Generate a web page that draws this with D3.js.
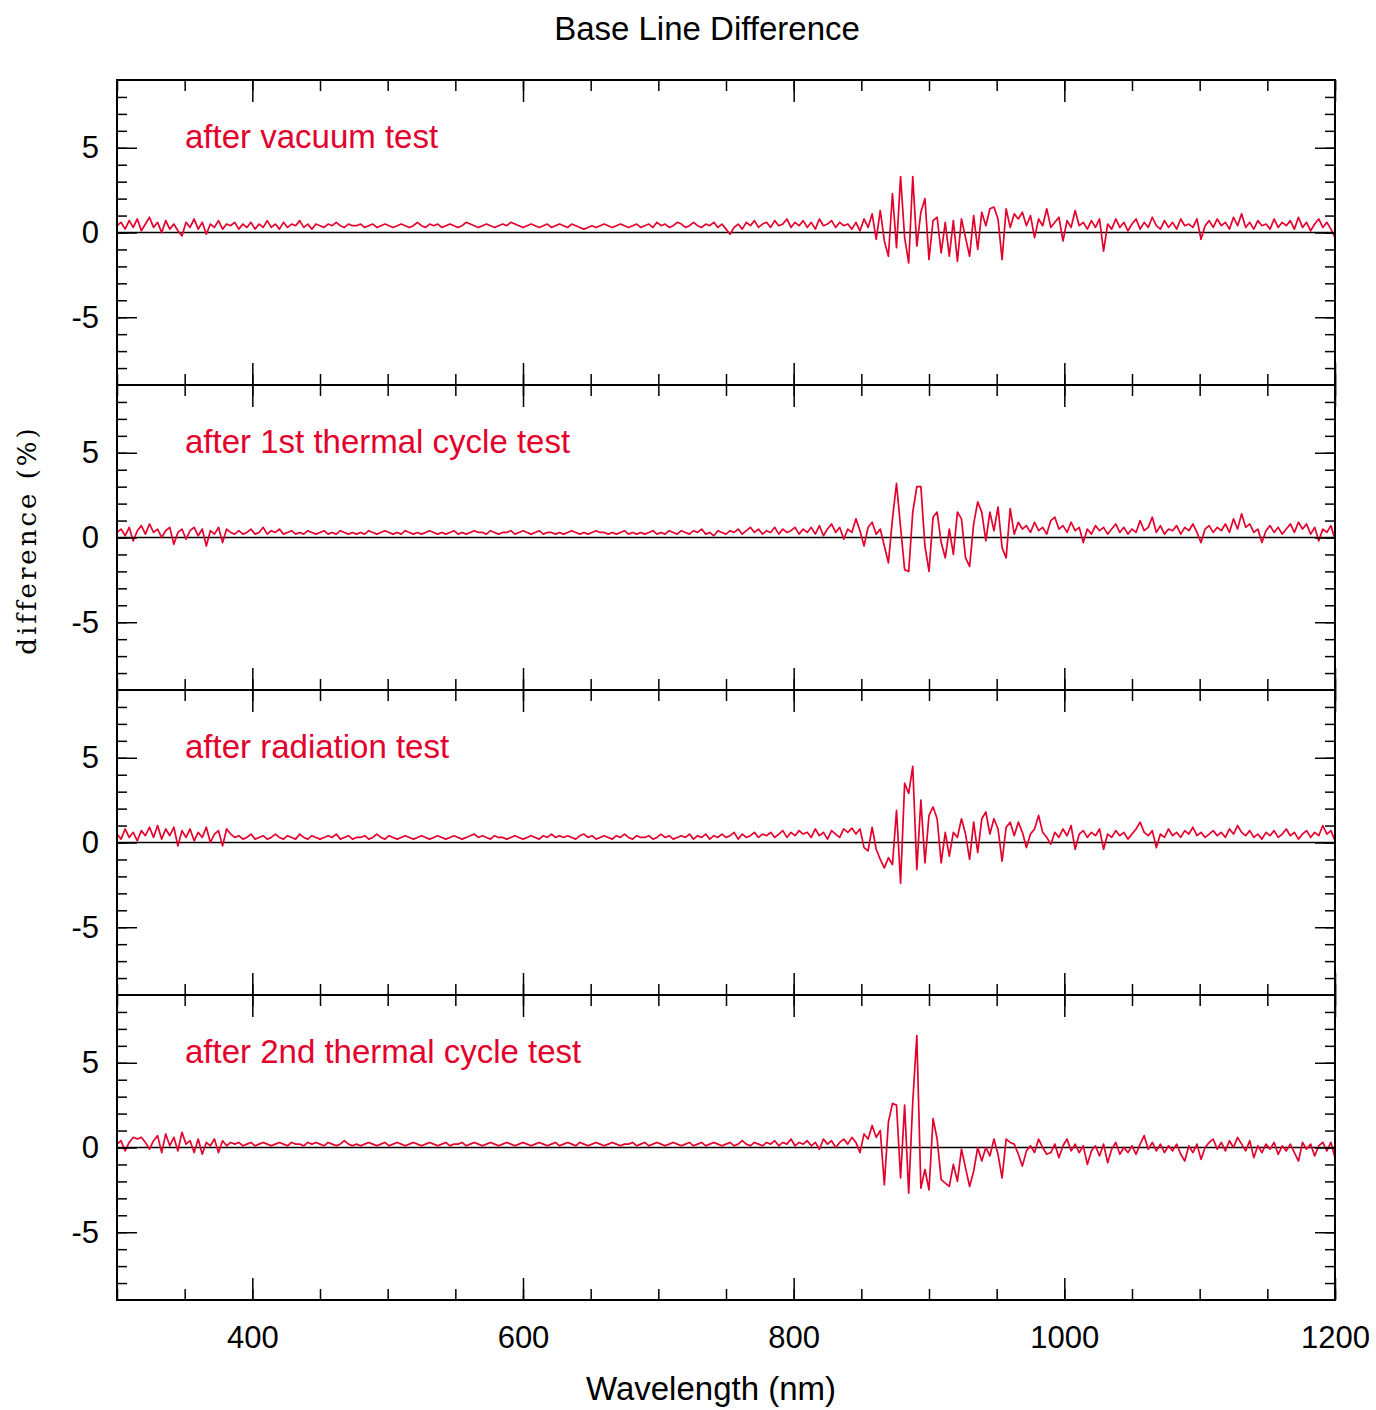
<!DOCTYPE html>
<html>
<head>
<meta charset="utf-8">
<script src="https://cdn.jsdelivr.net/npm/d3@7"></script>
<style>
  body { margin: 0; background: #fff; }
  svg { display: block; }
  svg { font-family: "Liberation Sans", Arial, Helvetica, sans-serif; }
</style>
</head>
<body>
<script>
// wavelength grid (nm), one reading every 3 nm
let wavelengths = d3.range(300, 1201, 3);

let labels = ["after vacuum test", "after 1st thermal cycle test", "after radiation test", "after 2nd thermal cycle test"];

let vacuum = [
  0.4, 0.6, 0.2, 0.7, 0.3, 0.8, 0.1, 0.5, 0.9, 0.3,
  0.6, 0.0, 0.7, 0.2, 0.5, 0.1, -0.2, 0.6, 0.3, 0.8,
  0.2, 0.6, -0.1, 0.5, 0.3, 0.7, 0.2, 0.5, 0.4, 0.6,
  0.2, 0.5, 0.3, 0.6, 0.2, 0.5, 0.3, 0.7, 0.3, 0.5,
  0.2, 0.6, 0.3, 0.5, 0.4, 0.7, 0.3, 0.5, 0.2, 0.5,
  0.4, 0.3, 0.5, 0.4, 0.6, 0.4, 0.3, 0.5, 0.4, 0.4,
  0.5, 0.3, 0.4, 0.5, 0.3, 0.4, 0.5, 0.4, 0.3, 0.4,
  0.5, 0.4, 0.3, 0.4, 0.6, 0.4, 0.3, 0.5, 0.4, 0.5,
  0.3, 0.4, 0.5, 0.4, 0.3, 0.4, 0.6, 0.5, 0.4, 0.3,
  0.4, 0.5, 0.4, 0.3, 0.4, 0.5, 0.4, 0.6, 0.5, 0.4,
  0.3, 0.4, 0.5, 0.4, 0.3, 0.4, 0.5, 0.3, 0.4, 0.5,
  0.4, 0.3, 0.5, 0.4, 0.3, 0.2, 0.3, 0.4, 0.3, 0.4,
  0.5, 0.4, 0.3, 0.4, 0.5, 0.4, 0.3, 0.4, 0.5, 0.3,
  0.4, 0.5, 0.3, 0.6, 0.4, 0.5, 0.3, 0.4, 0.6, 0.5,
  0.3, 0.4, 0.6, 0.4, 0.3, 0.5, 0.4, 0.6, 0.3, 0.5,
  0.2, -0.1, 0.3, 0.5, 0.2, 0.6, 0.4, 0.7, 0.3, 0.5,
  0.6, 0.3, 0.7, 0.4, 0.5, 0.8, 0.3, 0.6, 0.4, 0.7,
  0.3, 0.6, 0.2, 0.8, 0.4, 0.5, 0.7, 0.3, 0.6, 0.4,
  0.5, 0.2, 0.6, 0.1, 0.8, 0.3, 1.1, -0.4, 1.3, -0.5,
  -1.4, 2.3, -0.9, 3.3, -0.3, -1.8, 3.3, -0.8, 1.2, 2.0,
  -1.6, 0.7, 0.9, -1.2, 0.6, -1.4, 0.7, -1.7, 0.8, -0.3,
  -1.4, 1.0, -1.0, 1.2, 0.4, 1.4, 1.5, 0.8, -1.6, 1.4,
  0.3, 1.1, 0.8, 1.2, 0.4, 1.0, -0.3, 0.8, 0.4, 1.4,
  0.3, 0.6, 0.9, -0.5, 0.7, 0.3, 1.3, 0.4, 0.6, 0.2,
  0.7, 0.3, 0.8, -1.1, 0.5, 0.2, 0.8, 0.3, 0.6, 0.1,
  0.5, 0.8, 0.2, 0.6, 0.3, 0.9, 0.4, 0.2, 0.7, 0.3,
  0.6, 0.2, 0.8, 0.4, 0.5, 0.3, 0.8, -0.4, 0.4, 0.7,
  0.3, 0.8, 0.4, 0.6, 0.2, 0.9, 0.4, 1.1, 0.3, 0.6,
  0.2, 0.7, 0.4, 0.5, 0.2, 0.8, 0.3, 0.6, 0.4, 0.7,
  0.2, 0.9, 0.3, 0.6, 0.1, 0.5, 0.8, 0.3, 0.6, 0.2,
  -0.3
];

let thermal1 = [
  0.3, 0.5, 0.1, 0.6, -0.2, 0.4, 0.7, 0.2, 0.8, 0.3,
  0.5, 0.0, 0.4, 0.6, -0.4, 0.3, 0.5, -0.1, 0.4, 0.6,
  0.1, 0.5, -0.5, 0.4, 0.2, 0.6, -0.3, 0.5, 0.3, 0.2,
  0.4, 0.2, 0.3, 0.5, 0.2, 0.3, 0.6, 0.2, 0.4, 0.3,
  0.5, 0.2, 0.3, 0.4, 0.2, 0.3, 0.2, 0.4, 0.3, 0.2,
  0.3, 0.4, 0.2, 0.3, 0.2, 0.4, 0.3, 0.2, 0.3, 0.2,
  0.3, 0.2, 0.4, 0.3, 0.2, 0.3, 0.4, 0.3, 0.2, 0.3,
  0.2, 0.4, 0.3, 0.2, 0.3, 0.2, 0.3, 0.4, 0.3, 0.2,
  0.3, 0.2, 0.3, 0.4, 0.2, 0.3, 0.2, 0.3, 0.4, 0.3,
  0.3, 0.2, 0.4, 0.3, 0.2, 0.3, 0.3, 0.4, 0.2, 0.3,
  0.4, 0.3, 0.2, 0.3, 0.4, 0.2, 0.3, 0.3, 0.2, 0.3,
  0.2, 0.3, 0.4, 0.3, 0.2, 0.3, 0.2, 0.3, 0.4, 0.3,
  0.3, 0.2, 0.3, 0.2, 0.3, 0.4, 0.2, 0.3, 0.2, 0.3,
  0.2, 0.3, 0.4, 0.2, 0.3, 0.2, 0.4, 0.3, 0.2, 0.4,
  0.3, 0.2, 0.4, 0.3, 0.5, 0.2, 0.3, 0.1, 0.4, 0.3,
  0.2, 0.4, 0.3, 0.5, 0.2, 0.4, 0.6, 0.3, 0.5, 0.2,
  0.4, 0.3, 0.6, 0.2, 0.5, 0.3, 0.4, 0.6, 0.2, 0.5,
  0.3, 0.6, 0.2, 0.7, 0.1, 0.5, 0.8, 0.3, 0.6, -0.1,
  0.5, 0.3, 1.1, 0.4, -0.5, 0.6, 0.9, 0.2, 0.5, -0.5,
  -1.5, 1.1, 3.2, 0.6, -1.9, -2.0, 1.5, 3.0, 3.0, -0.5,
  -2.0, 1.2, 1.5, -0.3, -1.2, 0.5, -1.0, 1.5, 1.1, -1.2,
  -1.7, 0.8, 2.1, 1.5, -0.2, 1.5, 0.4, 1.8, -0.6, -1.2,
  1.7, 0.2, 0.9, 0.5, 0.7, 0.3, 0.9, 0.4, 0.6, 0.2,
  1.0, 1.2, 0.5, 0.7, 0.3, 0.9, 0.4, 0.6, -0.3, 0.5,
  0.2, 0.7, 0.4, 0.6, 0.2, 0.5, 0.8, 0.3, 0.6, 0.2,
  0.5, 0.3, 1.0, 0.4, 0.6, 1.2, 0.3, 0.7, 0.2, 0.5,
  0.4, 0.7, 0.2, 0.6, 0.4, 0.8, 0.3, -0.3, 0.5, 0.7,
  0.3, 0.6, 0.4, 0.8, 0.3, 1.1, 0.5, 1.4, 0.6, 0.8,
  0.3, 0.5, -0.3, 0.4, 0.7, 0.3, 0.6, 0.2, 0.5, 0.8,
  0.3, 0.9, 0.5, 0.8, 0.2, 0.6, -0.2, 0.5, 0.3, 0.7,
  -0.1
];

let radiation = [
  0.5, 0.2, 0.8, 0.3, 0.6, 0.1, 0.7, 0.4, 0.9, 0.3,
  1.0, 0.2, 0.8, 0.4, 0.9, -0.2, 0.7, 0.3, 0.8, 0.1,
  0.6, 0.3, 0.9, 0.0, 0.5, 0.7, -0.2, 0.8, 0.5, 0.3,
  0.4, 0.2, 0.3, 0.5, 0.2, 0.3, 0.4, 0.2, 0.3, 0.5,
  0.3, 0.2, 0.4, 0.3, 0.2, 0.5, 0.3, 0.2, 0.4, 0.3,
  0.2, 0.3, 0.4, 0.3, 0.5, 0.2, 0.3, 0.4, 0.2, 0.3,
  0.3, 0.4, 0.2, 0.3, 0.5, 0.3, 0.2, 0.4, 0.3, 0.2,
  0.3, 0.4, 0.3, 0.2, 0.3, 0.4, 0.3, 0.2, 0.3, 0.4,
  0.3, 0.2, 0.3, 0.4, 0.3, 0.2, 0.3, 0.4, 0.5, 0.3,
  0.4, 0.3, 0.2, 0.4, 0.3, 0.3, 0.2, 0.3, 0.4, 0.3,
  0.2, 0.3, 0.4, 0.3, 0.2, 0.4, 0.3, 0.5, 0.3, 0.4,
  0.3, 0.4, 0.3, 0.2, 0.4, 0.5, 0.3, 0.4, 0.2, 0.3,
  0.4, 0.3, 0.2, 0.4, 0.3, 0.5, 0.3, 0.2, 0.4, 0.3,
  0.3, 0.4, 0.2, 0.3, 0.5, 0.3, 0.4, 0.2, 0.3, 0.4,
  0.3, 0.5, 0.2, 0.4, 0.3, 0.5, 0.2, 0.4, 0.3, 0.5,
  0.3, 0.4, 0.6, 0.2, 0.5, 0.3, 0.4, 0.6, 0.3, 0.5,
  0.4, 0.6, 0.3, 0.5, 0.7, 0.3, 0.6, 0.4, 0.7, 0.5,
  0.6, 0.3, 0.8, 0.4, 0.6, 0.2, 0.7, 0.5, 0.3, 0.8,
  0.6, 0.85, 0.5, 0.8, -0.3, -0.5, 0.9, -0.4, -1.0, -1.5,
  -0.9, -1.3, 1.9, -2.4, 3.5, 2.9, 4.5, -1.6, 2.5, -1.2,
  1.6, 2.1, 1.4, -1.2, 0.6, -0.8, 0.6, 0.3, 1.4, 0.5,
  -1.0, 1.2, -0.6, 1.4, 1.8, 0.5, 1.4, 0.8, -1.1, 0.9,
  1.2, 0.4, 1.2, 0.6, -0.3, 0.5, 0.8, 1.6, 0.6, 0.3,
  -0.1, 0.6, 0.3, 0.8, 0.4, 1.0, -0.4, 0.5, 0.7, 0.3,
  0.6, 0.4, 0.8, -0.4, 0.5, 0.3, 0.7, 0.4, 0.6, 0.2,
  0.5, 0.8, 1.2, 0.6, 0.4, 0.7, -0.3, 0.5, 0.3, 0.8,
  0.4, 0.6, 0.3, 0.7, 0.5, 0.9, 0.4, 0.6, 0.3, 0.5,
  0.7, 0.4, 0.6, 0.3, 0.8, 0.5, 1.0, 0.6, 0.4, 0.7,
  0.3, 0.5, 0.2, 0.6, 0.4, 0.7, 0.3, 0.5, 0.8, 0.4,
  0.6, 0.2, 0.5, 0.7, 0.3, 0.6, 0.4, 1.0, 0.5, 0.7,
  0.1
];

let thermal2 = [
  0.2, 0.4, -0.2, 0.3, 0.6, 0.5, 0.6, 0.3, -0.1, 0.4,
  0.7, -0.3, 0.8, 0.1, 0.6, -0.2, 0.9, 0.2, 0.4, -0.3,
  0.5, -0.4, 0.3, 0.1, 0.5, -0.3, 0.4, 0.1, 0.3, 0.2,
  0.3, 0.1, 0.2, 0.3, 0.1, 0.2, 0.3, 0.2, 0.1, 0.2,
  0.3, 0.2, 0.1, 0.3, 0.2, 0.2, 0.1, 0.3, 0.2, 0.3,
  0.2, 0.1, 0.3, 0.2, 0.1, 0.2, 0.4, 0.2, 0.1, 0.2,
  0.1, 0.2, 0.3, 0.2, 0.1, 0.2, 0.3, 0.1, 0.2, 0.3,
  0.2, 0.1, 0.2, 0.3, 0.2, 0.1, 0.2, 0.3, 0.2, 0.1,
  0.2, 0.3, 0.1, 0.2, 0.2, 0.3, 0.1, 0.2, 0.3, 0.2,
  0.1, 0.2, 0.3, 0.2, 0.1, 0.2, 0.3, 0.2, 0.1, 0.2,
  0.3, 0.2, 0.1, 0.2, 0.3, 0.2, 0.1, 0.2, 0.3, 0.1,
  0.2, 0.3, 0.2, 0.1, 0.3, 0.2, 0.1, 0.2, 0.3, 0.2,
  0.1, 0.2, 0.3, 0.2, 0.1, 0.2, 0.2, 0.3, 0.1, 0.2,
  0.3, 0.1, 0.2, 0.3, 0.2, 0.1, 0.2, 0.3, 0.2, 0.1,
  0.2, 0.3, 0.1, 0.2, 0.3, 0.1, 0.2, 0.3, 0.2, 0.1,
  0.2, 0.3, 0.1, 0.2, 0.4, 0.2, 0.1, 0.3, 0.2, 0.1,
  0.3, 0.2, 0.4, 0.1, 0.3, 0.2, 0.5, 0.1, 0.3, 0.2,
  0.4, 0.1, 0.3, -0.1, 0.5, 0.2, 0.4, 0.0, 0.3, 0.5,
  0.2, 0.6, 0.3, -0.3, 0.8, 0.5, 1.3, 0.6, 1.0, -2.2,
  1.5, 2.6, 2.5, -1.8, 2.5, -2.7, 2.7, 6.6, -2.4, -1.3,
  -2.5, 1.7, 0.5, -1.9, -2.1, -2.3, -1.0, -2.0, -0.1, -1.2,
  -2.3, -1.4, 0.0, -0.8, 0.0, -0.5, 0.5, -0.4, -1.8, 0.5,
  0.3, 0.2, -0.4, -1.1, -0.2, 0.1, -0.3, 0.5, 0.0, -0.4,
  -0.3, 0.2, -0.6, 0.1, 0.5, -0.2, 0.2, -0.3, 0.1, -1.0,
  -0.2, 0.1, -0.5, 0.2, -0.9, -0.1, 0.3, -0.4, 0.0, -0.3,
  0.1, -0.4, 0.2, 0.7, -0.1, 0.3, -0.2, 0.2, -0.3, 0.1,
  -0.2, 0.2, -0.4, -0.8, 0.1, -0.3, 0.2, -0.7, 0.0, 0.3,
  0.5, -0.1, 0.3, -0.2, 0.4, 0.0, 0.6, 0.2, -0.2, 0.4,
  -0.6, 0.1, -0.3, 0.2, -0.1, 0.3, -0.4, 0.1, -0.2, 0.2,
  -0.3, -0.8, 0.3, -0.1, 0.2, -0.5, 0.1, 0.3, -0.2, 0.3,
  -0.6
];

let series = [vacuum, thermal1, radiation, thermal2];

let xMajor = [400, 600, 800, 1000, 1200];
let xMinor = d3.range(300, 1201, 50);
let yMajor = [-5, 0, 5];
let yMinor = d3.range(-8, 9, 1);

let width = 1376, height = 1410;
let left = 117, right = 1335, top0 = 80, panelH = 305;
let red = "#e3002c";

let svg = d3.select("body").append("svg")
    .attr("width", width)
    .attr("height", height);

let x = d3.scaleLinear().domain([300, 1200]).range([left, right]);

svg.append("text")
    .attr("x", 707)
    .attr("y", 40)
    .attr("text-anchor", "middle")
    .attr("font-size", 33)
    .text("Base Line Difference");

series.forEach(function(vals, i) {
  let top = top0 + i * panelH;
  let y = d3.scaleLinear().domain([-9, 9]).range([top + panelH, top]);
  let g = svg.append("g");

  // zero line
  g.append("line")
      .attr("x1", x(300)).attr("x2", x(1200))
      .attr("y1", y(0)).attr("y2", y(0))
      .attr("stroke", "#000").attr("stroke-width", 1.5);

  let line = d3.line()
      .x(function(d, j) { return x(wavelengths[j]); })
      .y(function(d) { return y(d); });

  g.append("path")
      .datum(vals)
      .attr("fill", "none")
      .attr("stroke", red)
      .attr("stroke-width", 1.7)
      .attr("stroke-linejoin", "round")
      .attr("d", line);

  // ticks, all pointing inward
  g.append("g").attr("transform", "translate(0," + top + ")")
      .call(d3.axisTop(x).tickValues(xMinor).tickSize(-11).tickFormat(""));
  g.append("g").attr("transform", "translate(0," + top + ")")
      .call(d3.axisTop(x).tickValues(xMajor).tickSize(-22).tickFormat(""));
  g.append("g").attr("transform", "translate(0," + (top + panelH) + ")")
      .call(d3.axisBottom(x).tickValues(xMinor).tickSize(-11).tickFormat(""));
  g.append("g").attr("transform", "translate(0," + (top + panelH) + ")")
      .call(d3.axisBottom(x).tickValues(xMajor).tickSize(-22).tickFormat(""));

  g.append("g").attr("transform", "translate(" + left + ",0)")
      .call(d3.axisLeft(y).tickValues(yMinor).tickSize(-10).tickFormat(""));
  g.append("g").attr("transform", "translate(" + left + ",0)")
      .call(d3.axisLeft(y).tickValues(yMajor).tickSize(-20).tickPadding(18)
        .tickFormat(function(d) { return String(d); }))
      .selectAll("text").attr("font-size", 31).attr("fill", "#000");
  g.append("g").attr("transform", "translate(" + right + ",0)")
      .call(d3.axisRight(y).tickValues(yMinor).tickSize(-10).tickFormat(""));
  g.append("g").attr("transform", "translate(" + right + ",0)")
      .call(d3.axisRight(y).tickValues(yMajor).tickSize(-20).tickFormat(""));

  g.selectAll(".domain").remove();
  g.selectAll(".tick line").attr("stroke", "#000").attr("stroke-width", 1.5);

  g.append("rect")
      .attr("x", left).attr("y", top)
      .attr("width", right - left).attr("height", panelH)
      .attr("fill", "none").attr("stroke", "#000").attr("stroke-width", 2);

  g.append("text")
      .attr("x", 185)
      .attr("y", top + 68)
      .attr("fill", red)
      .attr("font-size", 33)
      .text(labels[i]);
});

// bottom tick labels
svg.append("g")
    .attr("transform", "translate(0," + (top0 + 4 * panelH) + ")")
    .call(d3.axisBottom(x).tickValues(xMajor).tickSize(0).tickPadding(26)
      .tickFormat(function(d) { return String(d); }))
    .call(function(g) { g.select(".domain").remove(); })
    .selectAll("text").attr("font-size", 31).attr("fill", "#000");

svg.append("text")
    .attr("x", 711)
    .attr("y", 1400)
    .attr("text-anchor", "middle")
    .attr("font-size", 33)
    .text("Wavelength (nm)");

svg.append("text")
    .attr("transform", "translate(36,540) rotate(-90)")
    .attr("text-anchor", "middle")
    .style("font-family", "'DejaVu Serif', 'Liberation Serif', serif")
    .attr("font-size", 26)
    .attr("letter-spacing", 3)
    .text("difference (%)");
</script>
</body>
</html>
